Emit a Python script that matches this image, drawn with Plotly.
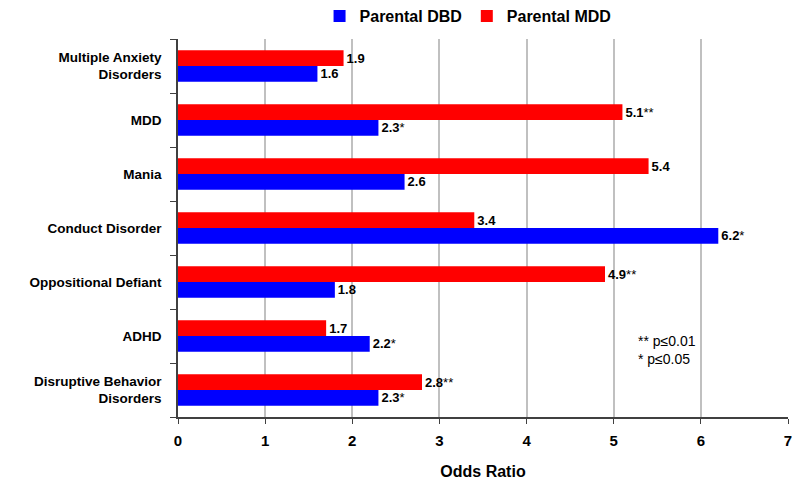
import plotly.graph_objects as go

categories = ["Multiple Anxiety<br>Disorders", "MDD", "Mania", "Conduct Disorder",
              "Oppositional Defiant", "ADHD", "Disruptive Behavior<br>Disorders"]
dbd_values = [1.6, 2.3, 2.6, 6.2, 1.8, 2.2, 2.3]
dbd_marks = ["", "*", "", "*", "", "*", "*"]
mdd_values = [1.9, 5.1, 5.4, 3.4, 4.9, 1.7, 2.8]
mdd_marks = ["", "**", "", "", "**", "", "**"]
x_ticks = [0, 1, 2, 3, 4, 5, 6, 7]

font_fam = "Liberation Sans, Arial, sans-serif"


def make_labels(vals, marks):
    return [f"{v:.1f}" + (f"<span style='font-weight:normal'>{m}</span>" if m else "")
            for v, m in zip(vals, marks)]


fig = go.Figure()
fig.add_trace(go.Bar(
    y=categories, x=dbd_values, orientation="h", name="Parental DBD",
    marker=dict(color="#0000ff", line=dict(width=0)),
    text=make_labels(dbd_values, dbd_marks), textposition="outside", cliponaxis=False,
    textfont=dict(family=font_fam, size=13, color="black", weight="bold"),
))
fig.add_trace(go.Bar(
    y=categories, x=mdd_values, orientation="h", name="Parental MDD",
    marker=dict(color="#ff0000", line=dict(width=0)),
    text=make_labels(mdd_values, mdd_marks), textposition="outside", cliponaxis=False,
    textfont=dict(family=font_fam, size=13, color="black", weight="bold"),
))

fig.update_layout(
    width=792, height=475,
    margin=dict(l=170, r=12, t=31, b=66, autoexpand=False),
    paper_bgcolor="white", plot_bgcolor="white",
    barmode="group", bargap=0.42, bargroupgap=0,
    font=dict(family=font_fam, color="black"),
    showlegend=True,
    legend=dict(orientation="h", x=0.4755, xanchor="center", xref="paper",
                y=0.983, yanchor="middle", yref="container",
                font=dict(size=16, weight="bold"), itemwidth=30,
                traceorder="normal"),
    xaxis=dict(range=[0, 7], tickvals=x_ticks, showgrid=True, gridcolor="#c0c0c0",
               gridwidth=1.5, zeroline=False, showline=True, linecolor="#404040",
               linewidth=1.5, ticks="outside", ticklen=5, tickcolor="#404040",
               automargin=False, ticklabelstandoff=4,
               tickfont=dict(size=15, weight="bold"),
               title=dict(text="Odds Ratio", font=dict(size=16, weight="bold"), standoff=18)),
    yaxis=dict(categoryorder="array", categoryarray=categories[::-1],
               showline=True, linecolor="#404040", linewidth=1.5, automargin=False,
               ticks="outside", ticklen=6, tickcolor="#404040", tickson="boundaries",
               tickfont=dict(size=13.5, weight="bold"), showgrid=False,
               ticklabelstandoff=12),
    annotations=[dict(
        x=5.26, y=0.177, xref="x", yref="paper", xanchor="left", yanchor="middle",
        text="** p≤0.01<br>* p≤0.05", showarrow=False, align="left",
        font=dict(size=14, color="black"))],
)

fig.write_html("out.html")
